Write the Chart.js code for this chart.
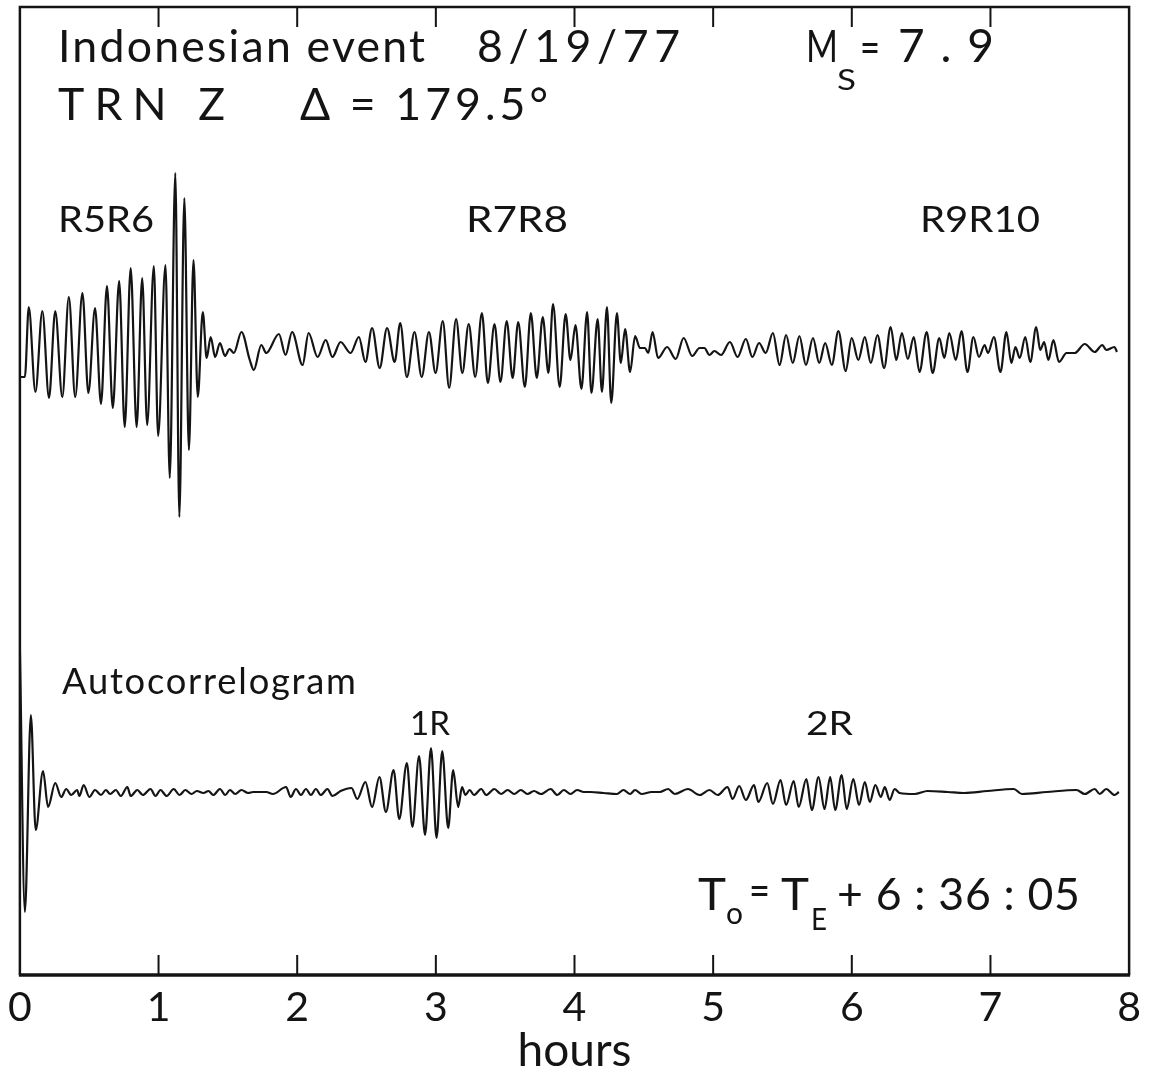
<!DOCTYPE html>
<html>
<head>
<meta charset="utf-8">
<title>Indonesian event 8/19/77 - TRN Z</title>
<script src="https://cdn.jsdelivr.net/npm/chart.js@4.4.1/dist/chart.umd.min.js"></script>
<style>
  html, body { margin: 0; padding: 0; background: #fff; }
  #wrap { width: 1149px; height: 1072px; }
</style>
</head>
<body>
<div id="wrap"><canvas id="seis" width="1149" height="1072"></canvas></div>
<script>
// hour ticks along the time axis
var hourTicks = [0, 1, 2, 3, 4, 5, 6, 7, 8];

// TRN Z record, peaks and troughs (hours, amplitude)
var topHours = [0, 0.036, 0.064, 0.112, 0.162, 0.210, 0.255, 0.306, 0.353, 0.399,
  0.451, 0.494, 0.542, 0.585, 0.628, 0.670, 0.716, 0.756, 0.799, 0.842,
  0.882, 0.918, 0.966, 0.997, 1.050, 1.081, 1.121, 1.150, 1.186, 1.219,
  1.252, 1.283, 1.319, 1.347, 1.376, 1.408, 1.443, 1.479, 1.512, 1.543,
  1.598, 1.658, 1.687, 1.741, 1.777, 1.868, 1.916, 1.963, 2.039, 2.082,
  2.147, 2.206, 2.254, 2.313, 2.385, 2.445, 2.492, 2.540, 2.595, 2.648,
  2.703, 2.743, 2.791, 2.846, 2.898, 2.950, 2.998, 3.050, 3.096, 3.146,
  3.191, 3.237, 3.284, 3.332, 3.375, 3.423, 3.466, 3.511, 3.554, 3.594,
  3.642, 3.685, 3.728, 3.771, 3.812, 3.845, 3.893, 3.936, 3.971, 4.007,
  4.050, 4.091, 4.122, 4.167, 4.198, 4.234, 4.265, 4.306, 4.334, 4.365,
  4.401, 4.437, 4.472, 4.508, 4.532, 4.563, 4.603, 4.668, 4.730, 4.787,
  4.849, 4.902, 4.937, 4.973, 5.009, 5.057, 5.121, 5.176, 5.236, 5.283,
  5.331, 5.379, 5.431, 5.479, 5.526, 5.574, 5.622, 5.669, 5.720, 5.765,
  5.808, 5.856, 5.903, 5.956, 5.999, 6.047, 6.094, 6.137, 6.185, 6.233,
  6.280, 6.321, 6.361, 6.404, 6.447, 6.488, 6.540, 6.583, 6.631, 6.667,
  6.703, 6.750, 6.791, 6.834, 6.877, 6.917, 6.958, 6.982, 7.025, 7.072,
  7.115, 7.151, 7.180, 7.211, 7.251, 7.287, 7.330, 7.359, 7.387, 7.418,
  7.454, 7.494, 7.549, 7.608, 7.680, 7.752, 7.807, 7.835, 7.895, 7.912];
var topAmp = [-29, -29, 41, -44, 37, -50, 37, -49, 51, -49,
  55, -45, 40, -56, 62, -60, 67, -79, 80, -79,
  70, -77, 82, -88, 83, -130, 175, -169, 150, -102,
  88, -49, 36, -10, 11, -9, 5, -8, -1, -5,
  16, -12, -22, 3, -5, 14, -7, 16, -17, 15,
  -9, 8, -9, 6, -5, 11, -14, 20, -20, 20,
  -14, 25, -29, 16, -29, 16, -25, 27, -40, 29,
  -25, 24, -29, 35, -35, 24, -34, 27, -30, 26,
  -39, 35, -30, 31, -25, 44, -39, 34, -12, 23,
  -41, 36, -45, 29, -44, 41, -55, 35, -15, 19,
  -24, 12, 0, 0, -5, 16, -10, 1, -11, 10,
  -8, 0, 0, -7, -3, -7, 6, -9, 9, -9,
  5, -5, 15, -17, 13, -15, 12, -17, 10, -15,
  5, -17, 17, -23, 10, -12, 11, -15, 13, -20,
  21, -12, 15, -11, 11, -24, 16, -25, 10, -10,
  15, -12, 17, -24, 11, -9, 3, -5, 11, -24,
  16, -15, 1, -10, 11, -14, 21, -2, 6, -12,
  8, -14, -5, -5, 4, -4, 3, -2, 1, -4];

// autocorrelogram, same reading
var acHours = [0, 0.036, 0.079, 0.114, 0.167, 0.203, 0.255, 0.298, 0.334, 0.370,
  0.413, 0.429, 0.460, 0.501, 0.542, 0.585, 0.620, 0.651, 0.692, 0.728,
  0.775, 0.799, 0.847, 0.887, 0.942, 0.978, 1.014, 1.059, 1.109, 1.152,
  1.193, 1.238, 1.276, 1.324, 1.360, 1.395, 1.443, 1.481, 1.515, 1.553,
  1.598, 1.646, 1.682, 1.777, 1.825, 1.920, 1.953, 1.991, 2.027, 2.063,
  2.099, 2.135, 2.170, 2.218, 2.254, 2.313, 2.392, 2.433, 2.492, 2.540,
  2.593, 2.640, 2.695, 2.736, 2.791, 2.831, 2.879, 2.922, 2.965, 3.005,
  3.046, 3.089, 3.125, 3.161, 3.189, 3.213, 3.244, 3.275, 3.327, 3.363,
  3.422, 3.470, 3.518, 3.565, 3.613, 3.661, 3.708, 3.757, 3.828, 3.876,
  3.923, 3.971, 4.019, 4.067, 4.115, 4.210, 4.306, 4.353, 4.401, 4.437,
  4.484, 4.556, 4.615, 4.675, 4.723, 4.818, 4.902, 4.973, 5.033, 5.104,
  5.140, 5.188, 5.236, 5.295, 5.326, 5.390, 5.431, 5.486, 5.526, 5.581,
  5.617, 5.672, 5.712, 5.760, 5.803, 5.844, 5.880, 5.927, 5.963, 6.011,
  6.052, 6.094, 6.130, 6.170, 6.209, 6.238, 6.273, 6.309, 6.345, 6.452,
  6.547, 6.691, 6.810, 6.977, 7.168, 7.227, 7.406, 7.621, 7.680, 7.752,
  7.788, 7.835, 7.895, 7.926];
var acAmp = [144, -120, 77, -38, 21, -15, 9, -5, 3, -3,
  2, -4, 7, -5, 2, -3, 2, -2, 2, -4,
  5, -4, 2, -3, 3, -4, 2, -4, 3, -3,
  2, -2, 1, -1, 1, -3, 3, -3, 2, -2,
  2, -1, 0, 0, -2, 5, -5, 3, -3, 3,
  -3, 3, -3, 3, -4, 1, 4, -7, 10, -15,
  15, -20, 22, -27, 29, -35, 36, -43, 44, -46,
  41, -36, 22, -15, 5, -3, 2, -3, 3, -3,
  3, -2, 2, -2, 2, -2, 1, -2, 3, -3,
  2, -2, 2, 0, 0, -1, -2, 2, -2, 2,
  -2, 0, 0, 3, -2, 3, -3, 2, -3, 5,
  -7, 6, -8, 7, -10, 9, -12, 12, -13, 11,
  -15, 13, -18, 15, -17, 15, -18, 17, -17, 13,
  -13, 10, -10, 7, -5, 5, -8, 3, -1, -2,
  1, 0, -1, 1, 3, -2, 0, 2, -2, 3,
  -2, 3, -3, 0];

var FONT = "Lato, 'DejaVu Sans', sans-serif";
var INK = '#141414';

function toPoints(xs, ys) {
    return xs.map(function (h, i) { return { x: h, y: ys[i] }; });
}

// text with a given cap height, scaled to the width seen in the figure;
// spread = true opens the letter spacing instead of stretching the glyphs
function drawFit(ctx, text, x, baseline, cap, width, spread) {
    var size = cap / 0.717;
    ctx.save();
    ctx.font = size.toFixed(1) + 'px ' + FONT;
    ctx.letterSpacing = '0px';
    var w = ctx.measureText(text).width;
    ctx.translate(x, baseline);
    if (spread && width > w && text.length > 1) {
        ctx.letterSpacing = ((width - w) / (text.length - 1)).toFixed(2) + 'px';
    } else if (width) {
        ctx.scale(width / w, 1);
    }
    ctx.fillText(text, 0, 0);
    ctx.restore();
}

var framePlugin = {
    id: 'frame',
    afterDatasetsDraw: function (chart) {
        var ctx = chart.ctx, a = chart.chartArea, x = chart.scales.x;
        ctx.save();
        ctx.strokeStyle = INK;
        ctx.lineWidth = 2.5;
        ctx.beginPath();
        ctx.moveTo(a.left, a.bottom);
        ctx.lineTo(a.left, a.top);
        ctx.lineTo(a.right, a.top);
        ctx.lineTo(a.right, a.bottom);
        ctx.stroke();
        ctx.lineWidth = 3.5;
        ctx.beginPath();
        ctx.moveTo(a.left - 1, a.bottom);
        ctx.lineTo(a.right + 1, a.bottom);
        ctx.stroke();
        // inward tick marks, top and bottom
        ctx.lineWidth = 2;
        x.ticks.forEach(function (t) {
            if (t.value <= x.min || t.value >= x.max) return;
            var px = x.getPixelForValue(t.value);
            ctx.beginPath();
            ctx.moveTo(px, a.bottom);
            ctx.lineTo(px, a.bottom - 20);
            ctx.moveTo(px, a.top);
            ctx.lineTo(px, a.top + 20);
            ctx.stroke();
        });
        ctx.restore();
    }
};

var textPlugin = {
    id: 'notes',
    afterDraw: function (chart) {
        var ctx = chart.ctx;
        ctx.save();
        ctx.fillStyle = INK;
        ctx.textBaseline = 'alphabetic';
        ctx.textAlign = 'left';
        drawFit(ctx, 'Indonesian event', 58, 62, 32, 367, true);
        drawFit(ctx, '8/19/77', 477, 62, 32, 203, true);
        drawFit(ctx, 'M', 806, 62, 32, 32);
        drawFit(ctx, 'S', 837, 90, 21, 19);
        drawFit(ctx, '=', 860, 62, 30, 20);
        drawFit(ctx, '7.9', 898, 62, 33, 96, true);
        drawFit(ctx, 'TRN Z', 58, 120, 32, 167, true);
        drawFit(ctx, '\u0394 = 179.5\u00b0', 300, 120, 32, 248, true);
        drawFit(ctx, 'R5R6', 58, 232, 26, 96);
        drawFit(ctx, 'R7R8', 466, 232, 26, 102);
        drawFit(ctx, 'R9R10', 920, 232, 26, 120);
        drawFit(ctx, 'Autocorrelogram', 62, 694, 26, 294, true);
        drawFit(ctx, '1R', 410, 735, 23, 40);
        drawFit(ctx, '2R', 806, 735, 23, 47);
        drawFit(ctx, 'T', 698, 910, 32, 28);
        drawFit(ctx, 'o', 726, 924, 22, 17);
        drawFit(ctx, '=', 749, 905, 30, 21);
        drawFit(ctx, 'T', 781, 910, 32, 28);
        drawFit(ctx, 'E', 811, 930, 22, 16);
        drawFit(ctx, '+ 6 : 36 : 05', 837, 910, 32, 243, true);
        ctx.restore();
    }
};

var traceStyle = {
    borderColor: INK,
    borderWidth: 2.2,
    pointRadius: 0,
    fill: false,
    tension: 0.4,
    cubicInterpolationMode: 'monotone'
};

new Chart(document.getElementById('seis'), {
    type: 'line',
    data: {
        datasets: [
            Object.assign({ label: 'TRN Z', data: toPoints(topHours, topAmp), yAxisID: 'y' }, traceStyle),
            Object.assign({ label: 'Autocorrelogram', data: toPoints(acHours, acAmp), yAxisID: 'y2' }, traceStyle)
        ]
    },
    options: {
        responsive: false,
        animation: false,
        layout: { padding: { left: 15, right: 16, top: 7, bottom: 0 } },
        plugins: { legend: { display: false }, tooltip: { enabled: false } },
        scales: {
            x: {
                type: 'linear',
                min: 0,
                max: 8,
                afterBuildTicks: function (scale) {
                    scale.ticks = hourTicks.map(function (v) { return { value: v }; });
                },
                afterFit: function (scale) { scale.height = 97; },
                grid: { display: false, drawTicks: false },
                border: { display: false },
                ticks: {
                    padding: 8,
                    maxRotation: 0,
                    color: INK,
                    font: { family: FONT, size: 41 }
                },
                title: {
                    display: true,
                    text: 'hours',
                    color: INK,
                    padding: 0,
                    font: { family: FONT, size: 46, lineHeight: 0.9 }
                }
            },
            y: { display: false, min: -627, max: 341 },
            y2: { display: false, min: -183, max: 785 }
        }
    },
    plugins: [framePlugin, textPlugin]
});
</script>
</body>
</html>
